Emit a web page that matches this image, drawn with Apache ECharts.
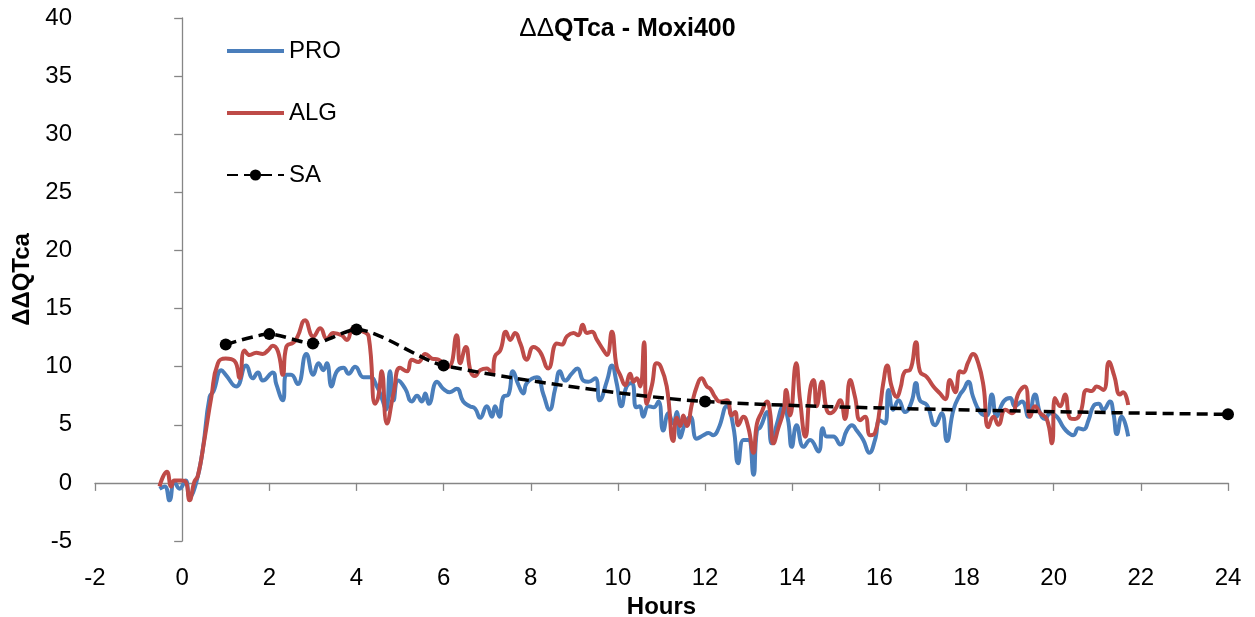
<!DOCTYPE html>
<html>
<head>
<meta charset="utf-8">
<title>ΔΔQTca - Moxi400</title>
<script src="https://cdn.jsdelivr.net/npm/echarts@6/dist/echarts.min.js"></script>
<style>
  html, body { margin: 0; padding: 0; background: #fff; }
  #chart { width: 1255px; height: 617px; }
</style>
</head>
<body>
<div id="chart"></div>
<script>
// Axis ranges and tick labels
const xTicks = [-2, 0, 2, 4, 6, 8, 10, 12, 14, 16, 18, 20, 22, 24];
const yTicks = [-5, 0, 5, 10, 15, 20, 25, 30, 35, 40];

// PRO: [hours, ΔΔQTca]
const pro = [
  [-0.52,-0.5],[-0.4,-0.3],[-0.29,-1.5],[-0.18,0.1],[-0.06,-0.5],[0.08,0.2],[0.17,-1.2],[0.32,0.0],
  [0.47,2.8],[0.63,7.4],[0.72,7.9],[0.9,9.7],[1.0,9.3],[1.24,8.3],[1.47,10.1],[1.62,9.0],[1.74,9.5],
  [1.85,8.8],[2.08,9.5],[2.16,8.5],[2.31,7.1],[2.39,9.3],[2.5,9.3],[2.65,8.5],[2.85,11.1],[3.01,9.3],
  [3.13,10.3],[3.24,9.7],[3.32,10.3],[3.43,8.3],[3.55,9.6],[3.7,9.9],[3.82,9.4],[3.97,10.0],[4.16,9.1],
  [4.31,9.1],[4.47,8.3],[4.58,7.3],[4.68,6.3],[4.77,9.6],[4.85,7.1],[4.96,8.8],[5.12,8.1],[5.27,7.0],
  [5.39,7.5],[5.5,7.0],[5.58,7.7],[5.66,6.8],[5.85,8.7],[5.99,8.1],[6.14,7.8],[6.3,8.1],[6.45,7.0],
  [6.6,6.6],[6.72,6.4],[6.84,5.6],[6.99,6.6],[7.11,5.7],[7.18,6.6],[7.28,5.7],[7.37,7.4],[7.49,7.6],
  [7.59,9.6],[7.72,8.4],[7.83,7.7],[7.91,8.6],[8.14,9.1],[8.29,7.6],[8.43,6.3],[8.56,8.1],[8.67,9.6],
  [8.79,8.8],[8.94,9.4],[9.07,9.85],[9.21,8.8],[9.32,8.7],[9.48,9.0],[9.58,7.1],[9.75,8.8],[9.86,10.1],
  [9.97,8.6],[10.08,6.6],[10.2,8.3],[10.32,8.6],[10.42,6.5],[10.5,6.6],[10.58,5.7],[10.7,6.6],[10.82,6.5],
  [10.93,7.0],[11.04,4.5],[11.16,6.0],[11.27,5.1],[11.35,6.1],[11.43,3.9],[11.54,5.1],[11.66,5.7],
  [11.81,3.8],[11.96,4.1],[12.08,4.3],[12.19,4.1],[12.31,4.7],[12.5,6.6],[12.65,4.8],[12.76,1.7],
  [12.88,3.7],[12.99,3.7],[13.11,0.7],[13.19,4.5],[13.27,4.8],[13.42,6.1],[13.53,3.4],[13.65,5.1],
  [13.8,6.6],[13.9,5.5],[13.99,3.1],[14.1,4.97],[14.26,3.1],[14.41,3.7],[14.6,2.7],[14.7,4.7],
  [14.79,4.0],[14.94,4.0],[15.1,3.3],[15.25,4.5],[15.37,4.97],[15.48,4.5],[15.63,3.7],[15.77,2.6],
  [15.9,3.7],[16.01,5.4],[16.13,5.1],[16.21,8.0],[16.32,6.3],[16.44,7.1],[16.59,6.1],[16.74,7.0],
  [16.84,8.6],[16.93,7.1],[17.09,6.7],[17.28,4.97],[17.43,6.0],[17.55,3.6],[17.7,6.3],[17.85,7.6],
  [17.93,8.0],[18.04,8.7],[18.15,7.4],[18.31,6.1],[18.46,5.8],[18.58,7.6],[18.69,5.7],[18.85,7.0],
  [19.0,7.3],[19.11,6.6],[19.27,7.0],[19.42,5.7],[19.57,7.6],[19.69,6.0],[19.8,5.5],[19.92,6.0],
  [20.07,5.7],[20.22,4.8],[20.34,4.3],[20.45,4.1],[20.57,4.7],[20.68,4.6],[20.8,5.4],[20.91,6.6],
  [21.03,6.8],[21.14,6.3],[21.29,7.0],[21.37,6.0],[21.45,4.2],[21.56,5.7],[21.71,4.0]
];

// ALG: [hours, ΔΔQTca]
const alg = [
  [-0.52,-0.3],[-0.35,0.95],[-0.25,-0.3],[-0.18,0.2],[-0.02,0.2],[0.08,0.1],[0.17,-1.5],[0.28,0.1],
  [0.36,0.6],[0.51,3.7],[0.67,7.4],[0.82,10.3],[1.0,10.7],[1.2,10.5],[1.32,9.0],[1.43,11.4],[1.55,11.0],
  [1.7,11.2],[1.85,11.1],[1.97,11.4],[2.08,11.8],[2.2,11.3],[2.31,9.3],[2.39,11.7],[2.56,12.1],
  [2.65,12.6],[2.82,14.0],[3.01,12.6],[3.17,13.3],[3.32,12.4],[3.47,12.9],[3.66,12.7],[3.78,12.3],
  [3.93,13.3],[4.16,13.0],[4.28,12.6],[4.43,6.8],[4.5,7.4],[4.58,9.6],[4.7,5.1],[4.85,7.7],[5.0,9.9],
  [5.16,9.6],[5.27,10.6],[5.42,10.4],[5.58,11.1],[5.73,10.7],[5.88,10.6],[6.11,10.0],[6.3,12.7],
  [6.38,10.3],[6.51,11.7],[6.62,9.6],[6.72,9.2],[6.84,9.7],[6.99,9.85],[7.11,9.4],[7.18,10.9],[7.3,11.4],
  [7.43,13.0],[7.53,12.3],[7.64,12.9],[7.76,12.0],[7.91,10.6],[8.06,11.7],[8.21,11.3],[8.4,9.85],
  [8.6,12.0],[8.71,11.9],[8.83,12.6],[8.98,12.9],[9.09,12.7],[9.19,13.6],[9.29,12.9],[9.4,13.0],
  [9.52,12.3],[9.67,11.4],[9.75,11.0],[9.86,13.0],[9.97,10.0],[10.05,9.3],[10.17,8.4],[10.28,9.4],
  [10.36,8.7],[10.43,9.0],[10.51,8.3],[10.6,12.1],[10.66,6.8],[10.78,8.4],[10.89,10.3],[10.97,10.1],
  [11.12,8.3],[11.27,3.6],[11.35,5.6],[11.43,4.9],[11.5,5.8],[11.58,4.9],[11.7,6.8],[11.81,8.3],
  [11.92,9.0],[12.04,8.3],[12.12,8.1],[12.23,7.4],[12.34,7.0],[12.5,7.1],[12.61,5.8],[12.69,6.1],
  [12.76,4.97],[12.88,5.7],[12.99,4.8],[13.11,2.6],[13.19,5.1],[13.3,6.1],[13.42,7.0],[13.49,6.1],
  [13.57,3.4],[13.68,4.7],[13.8,6.2],[13.86,8.0],[13.95,5.8],[14.09,10.3],[14.18,7.1],[14.3,3.97],
  [14.41,8.0],[14.49,8.85],[14.56,6.6],[14.68,8.7],[14.79,6.3],[14.87,6.0],[14.98,6.3],[15.1,7.1],
  [15.21,5.5],[15.33,8.85],[15.44,7.4],[15.56,5.4],[15.67,5.7],[15.79,4.1],[15.9,4.3],[16.01,6.4],
  [16.09,8.6],[16.18,10.1],[16.28,8.3],[16.4,7.4],[16.48,8.1],[16.59,9.6],[16.7,9.7],[16.84,12.1],
  [16.93,9.6],[17.09,9.1],[17.24,8.3],[17.39,7.7],[17.51,7.2],[17.62,8.85],[17.74,7.8],[17.85,9.6],
  [17.92,9.5],[18.04,10.4],[18.15,11.1],[18.27,10.3],[18.39,8.3],[18.5,4.8],[18.62,5.7],[18.73,5.0],
  [18.89,6.3],[19.04,6.0],[19.19,7.7],[19.34,8.3],[19.46,5.7],[19.57,6.6],[19.69,6.0],[19.84,5.5],
  [19.96,3.4],[20.03,7.3],[20.15,6.6],[20.26,7.6],[20.38,5.55],[20.49,5.5],[20.61,6.0],[20.76,8.0],
  [20.87,7.9],[20.99,8.3],[21.14,8.0],[21.27,10.4],[21.39,9.2],[21.52,7.6],[21.59,7.8],[21.71,6.7]
];

// SA: [hours, ΔΔQTca]
const sa = [[1, 11.9], [2, 12.8], [3, 12.0], [4, 13.2], [6, 10.1], [12, 7.0], [24, 5.9]];

const FONT = '"Liberation Sans", Arial, sans-serif';
const AXIS_GREY = '#868686';
const LINE_ICON = 'path://M0,0H57V4H0Z';

const chart = echarts.init(document.getElementById('chart'), null, { renderer: 'canvas' });

const valueAxisBase = {
  type: 'value',
  splitLine: { show: false },
  axisLabel: { color: '#000', fontSize: 24, fontFamily: FONT }
};

chart.setOption({
  animation: false,
  backgroundColor: '#fff',
  textStyle: { fontFamily: FONT },
  title: {
    text: '{d|ΔΔ}{b|QTca - Moxi400}',
    left: 'center',
    top: 11,
    textStyle: {
      rich: {
        d: { fontFamily: FONT, fontSize: 26, fontWeight: 'normal', color: '#000' },
        b: { fontFamily: FONT, fontSize: 25, fontWeight: 'bold', color: '#000' }
      }
    }
  },
  legend: {
    orient: 'vertical',
    left: 221,
    top: 34,
    itemWidth: 57,
    itemHeight: 14,
    itemGap: 38,
    symbolKeepAspect: true,
    textStyle: { fontSize: 24, fontFamily: FONT, color: '#000', lineHeight: 24 },
    data: [
      { name: 'PRO', icon: LINE_ICON },
      { name: 'ALG', icon: LINE_ICON },
      { name: 'SA' }
    ]
  },
  grid: { left: 95, right: 27, top: 18, bottom: 76, containLabel: false, outerBoundsMode: 'none' },
  xAxis: [
    Object.assign({}, valueAxisBase, {
      min: -2, max: 24, interval: 2,
      position: 'bottom',
      axisLine: { show: false, onZero: false },
      axisTick: { show: false },
      axisLabel: Object.assign({}, valueAxisBase.axisLabel, {
        margin: 25,
        customValues: xTicks
      }),
      name: 'Hours',
      nameLocation: 'middle',
      nameGap: 47,
      nameTextStyle: { fontSize: 24, fontWeight: 'bold', color: '#000', fontFamily: FONT }
    }),
    Object.assign({}, valueAxisBase, {
      min: -2, max: 24, interval: 2,
      position: 'bottom',
      axisLine: { show: true, onZero: true, onZeroAxisIndex: 0, lineStyle: { color: AXIS_GREY, width: 1.3 } },
      axisTick: { show: true, inside: false, length: 8, lineStyle: { color: AXIS_GREY, width: 1.3 } },
      axisLabel: { show: false }
    })
  ],
  yAxis: [
    Object.assign({}, valueAxisBase, {
      min: -5, max: 40, interval: 5,
      position: 'left',
      axisLine: { show: false, onZero: false },
      axisTick: { show: false },
      axisLabel: Object.assign({}, valueAxisBase.axisLabel, {
        margin: 23,
        customValues: yTicks
      }),
      name: 'ΔΔQTca',
      nameLocation: 'middle',
      nameGap: 58,
      nameRotate: 90,
      nameTextStyle: { fontSize: 24, fontWeight: 'bold', color: '#000', fontFamily: FONT }
    }),
    Object.assign({}, valueAxisBase, {
      min: -5, max: 40, interval: 5,
      position: 'left',
      axisLine: { show: true, onZero: true, onZeroAxisIndex: 0, lineStyle: { color: AXIS_GREY, width: 1.3 } },
      axisTick: { show: true, inside: false, length: 8, lineStyle: { color: AXIS_GREY, width: 1.3 } },
      axisLabel: { show: false }
    })
  ],
  series: [
    {
      name: 'PRO',
      type: 'line',
      data: pro,
      smooth: 0.5,
      symbol: 'none',
      color: '#4A7EBB',
      lineStyle: { color: '#4A7EBB', width: 4 },
      z: 3
    },
    {
      name: 'ALG',
      type: 'line',
      data: alg,
      smooth: 0.5,
      symbol: 'none',
      color: '#BE4B48',
      lineStyle: { color: '#BE4B48', width: 4 },
      z: 4
    },
    {
      name: 'SA',
      type: 'line',
      data: sa,
      smooth: 0.25,
      symbol: 'circle',
      symbolSize: 12,
      color: '#000',
      itemStyle: { color: '#000' },
      lineStyle: { color: '#000', width: 3.5, type: [11, 6] },
      z: 5
    }
  ]
});
</script>
</body>
</html>
